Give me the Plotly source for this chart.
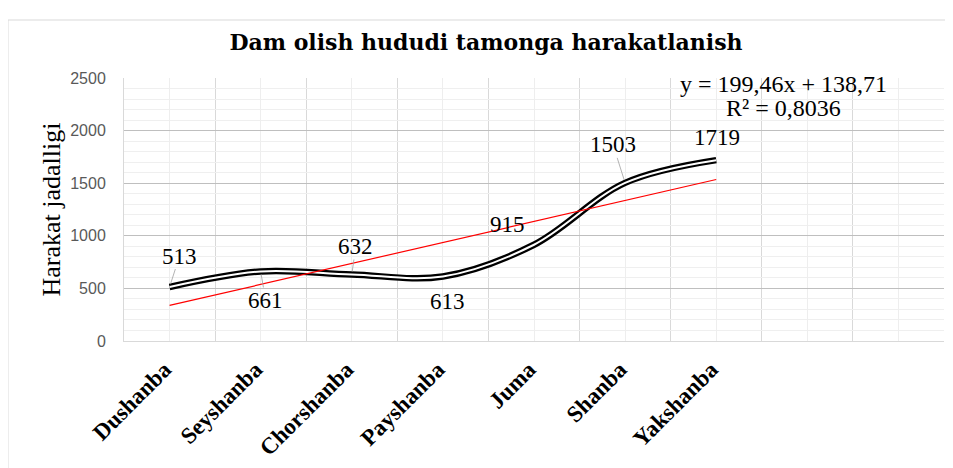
import numpy as np
import plotly.graph_objects as go

days = ["Dushanba", "Seyshanba", "Chorshanba", "Payshanba", "Juma", "Shanba", "Yakshanba"]
values = [513, 661, 632, 613, 915, 1503, 1719]
y_ticks = [0, 500, 1000, 1500, 2000, 2500]
n_slots = 9

idx = list(range(len(days)))
xs_fit = np.array(idx) + 1
slope, intercept = np.polyfit(xs_fit, values, 1)
trend = slope * xs_fit + intercept
ss_res = np.sum((np.array(values) - trend) ** 2)
ss_tot = np.sum((np.array(values) - np.mean(values)) ** 2)
r2 = 1 - ss_res / ss_tot
eq_text = f"y = {slope:.2f}x + {intercept:.2f}".replace(".", ",")
r2_text = f"R² = {r2:.4f}".replace(".", ",")

fig = go.Figure()
fig.add_trace(go.Scatter(x=idx, y=values, mode="lines",
                         line=dict(color="black", width=6.5, shape="spline", smoothing=1.0),
                         hoverinfo="skip", showlegend=False))
fig.add_trace(go.Scatter(x=idx, y=values, mode="lines",
                         line=dict(color="white", width=2, shape="spline", smoothing=1.0),
                         hoverinfo="skip", showlegend=False))
fig.add_trace(go.Scatter(x=idx, y=trend, mode="lines",
                         line=dict(color="#ff0000", width=1.2),
                         hoverinfo="skip", showlegend=False))

# data labels: (dx, dy, leader)
offsets = [(10, -31, True), (5, 29, True), (4, -28, True), (5, 25, False),
           (-27, -20, False), (-12, -38, True), (1, -23, False)]
lab_font = dict(family="Liberation Serif, Times New Roman, serif", size=23, color="black")
for i, v in enumerate(values):
    dx, dy, lead = offsets[i]
    if lead:
        fig.add_annotation(x=idx[i], y=v, xref="x", yref="y", text=str(v), font=lab_font,
                           showarrow=True, ax=dx, ay=dy, arrowhead=0, arrowwidth=0.8,
                           arrowcolor="#a0a0a0", standoff=3, borderpad=0)
    else:
        fig.add_annotation(x=idx[i], y=v, xref="x", yref="y", text=str(v), font=lab_font,
                           showarrow=False, xshift=dx, yshift=-dy)

eq_font = dict(family="Liberation Serif, Times New Roman, serif", size=24, color="black")
fig.add_annotation(x=0.8037, y=0.977, xref="paper", yref="paper", text=eq_text,
                   showarrow=False, font=eq_font, xanchor="center", yanchor="middle")
fig.add_annotation(x=0.8037, y=0.886, xref="paper", yref="paper", text=r2_text,
                   showarrow=False, font=eq_font, xanchor="center", yanchor="middle")

# y-axis title
fig.add_annotation(x=-0.089, y=0.5, xref="paper", yref="paper", text="Harakat jadalligi",
                   textangle=-90, showarrow=False,
                   font=dict(family="Liberation Serif, Times New Roman, serif", size=26, color="black"),
                   xanchor="center", yanchor="middle")

# chart border
fig.add_shape(type="rect", xref="paper", yref="paper", x0=-0.1415, x1=1.05, y0=-0.6, y1=1.2205,
              line=dict(color="#d9d9d9", width=1), fillcolor="rgba(0,0,0,0)", layer="below")

fig.update_layout(
    width=937, height=460,
    margin=dict(l=116, r=1, t=70, b=127),
    paper_bgcolor="white", plot_bgcolor="white",
    title=dict(text="<b>Dam olish hududi tamonga harakatlanish</b>", x=478 / 937, xref="container",
               y=1 - 34 / 460, yref="container", xanchor="center", yanchor="middle",
               font=dict(family="DejaVu Serif, serif", size=22, color="black")),
    xaxis=dict(range=[-0.5, n_slots - 0.5], tickmode="array", tickvals=list(range(n_slots)),
               ticktext=days + [""] * (n_slots - len(days)), tickangle=-45,
               tickfont=dict(family="Liberation Serif, Times New Roman, serif", size=23,
                             color="black", weight="bold"),
               showgrid=True, gridcolor="#eeeeee", gridwidth=1,
               minor=dict(tick0=-0.5, dtick=1, showgrid=True, gridcolor="#d9d9d9", gridwidth=1),
               showline=True, linecolor="#d9d9d9", linewidth=1, zeroline=False,
               ticks="", ticklabelstandoff=5, ticklabelshift=-5,
               automargin=False, fixedrange=True),
    yaxis=dict(range=[0, 2500], tickvals=y_ticks, showgrid=True, gridcolor="#bfbfbf", gridwidth=1,
               minor=dict(dtick=100, showgrid=True, gridcolor="#efefef", gridwidth=1),
               tickfont=dict(family="Liberation Sans, Arial, sans-serif", size=16, color="#595959"),
               showline=True, linecolor="#d9d9d9", zeroline=False, ticks="",
               ticklabelstandoff=14, automargin=False, fixedrange=True),
)

fig.write_html("out.html")
